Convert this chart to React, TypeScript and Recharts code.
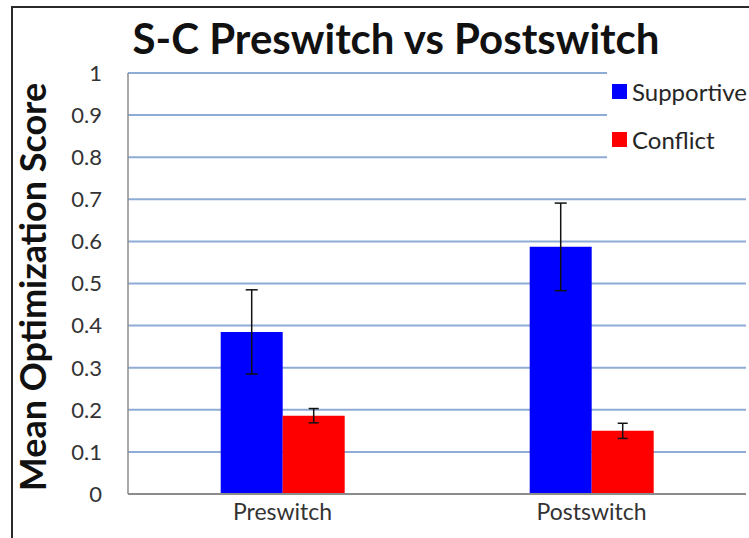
import React from 'react';
import { BarChart, Bar, XAxis, YAxis, CartesianGrid, ErrorBar } from 'recharts';

const categories = ['Preswitch', 'Postswitch'];
const supportive = [0.385, 0.587];
const supportiveErr = [0.1, 0.104];
const conflict = [0.186, 0.15];
const conflictErr = [0.017, 0.018];
const yTicks = [0, 0.1, 0.2, 0.3, 0.4, 0.5, 0.6, 0.7, 0.8, 0.9, 1];
const seriesNames = ['Supportive', 'Conflict'];
const seriesColors = ['#0000ff', '#ff0000'];

const data = categories.map((c, i) => ({
  name: c,
  Supportive: supportive[i],
  supErr: supportiveErr[i],
  Conflict: conflict[i],
  conErr: conflictErr[i],
}));

const FONT = 'Lato, "Open Sans", sans-serif';

export default function App() {
  return (
    <div style={{ position: 'absolute', left: 0, top: 0, width: 749, height: 538, background: '#fff', overflow: 'hidden' }}>
      <div style={{ position: 'absolute', left: 11, top: 6, width: 800, height: 600, border: '2px solid #2a2a2a', boxSizing: 'border-box' }} />
      <div style={{ position: 'absolute', left: 0, top: 0 }}>
        <BarChart
          width={749}
          height={538}
          data={data}
          margin={{ top: 73, right: 3, left: 68, bottom: 14 }}
          barCategoryGap="30%"
          barGap={0}
        >
          <CartesianGrid horizontal vertical={false} stroke="#8eacd6" strokeWidth={2} />
          <XAxis
            dataKey="name"
            height={30}
            axisLine={{ stroke: '#8c8c8c', strokeWidth: 2 }}
            tickLine={false}
            tickSize={0}
            tickMargin={10}
            tick={{ fontSize: 23, fill: '#333', fontFamily: FONT }}
          />
          <YAxis
            width={60}
            domain={[0, 1]}
            ticks={yTicks}
            interval={0}
            axisLine={{ stroke: '#8c8c8c', strokeWidth: 1.5 }}
            tickLine={false}
            tickSize={0}
            tickMargin={26}
            tickFormatter={(v: number) => (v === 0 ? '0' : v === 1 ? '1' : v.toFixed(1))}
            tick={{ fontSize: 22, fill: '#333', fontFamily: FONT }}
          />
          <Bar dataKey="Supportive" fill={seriesColors[0]} isAnimationActive={false}>
            <ErrorBar dataKey="supErr" width={6} stroke="#111" strokeWidth={1.5} isAnimationActive={false} />
          </Bar>
          <Bar dataKey="Conflict" fill={seriesColors[1]} isAnimationActive={false}>
            <ErrorBar dataKey="conErr" width={5} stroke="#111" strokeWidth={1.5} isAnimationActive={false} />
          </Bar>
        </BarChart>
      </div>
      <div style={{ position: 'absolute', left: 607, top: 68, width: 142, height: 100, background: '#fff', fontFamily: FONT }}>
        {seriesNames.map((n, i) => (
          <div key={n}>
            <div style={{ position: 'absolute', left: 5, top: 16 + i * 48, width: 15, height: 15, background: seriesColors[i] }} />
            <div style={{ position: 'absolute', left: 25, top: 9 + i * 48, fontSize: 24, color: '#262626', lineHeight: '30px', whiteSpace: 'nowrap' }}>{n}</div>
          </div>
        ))}
      </div>
      <svg width={749} height={538} style={{ position: 'absolute', left: 0, top: 0, pointerEvents: 'none' }}>
        <text x={396} y={54} textAnchor="middle" fontFamily={FONT} fontWeight="bold" fontSize={42} fill="#111">
          S-C Preswitch vs Postswitch
        </text>
        <text transform="translate(46,287) rotate(-90)" textAnchor="middle" fontFamily={FONT} fontWeight="bold" fontSize={36} fill="#111">
          Mean Optimization Score
        </text>
      </svg>
    </div>
  );
}
